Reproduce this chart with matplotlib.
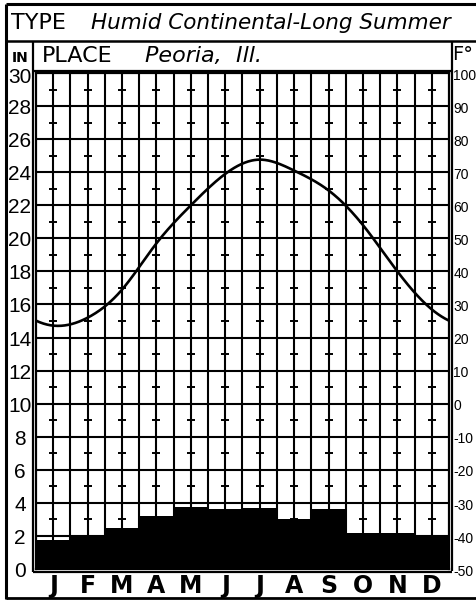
import numpy as np
import matplotlib
matplotlib.use("Agg")
import matplotlib.pyplot as plt
from matplotlib import transforms

# ---- data ----
months = ["J", "F", "M", "A", "M", "J", "J", "A", "S", "O", "N", "D"]
precip_in = [1.75, 1.95, 2.5, 3.2, 3.75, 3.6, 3.7, 3.0, 3.6, 2.2, 2.2, 1.95]
temp_f = [23.6, 26.0, 34.5, 48.5, 60.0, 69.5, 73.8, 70.5, 64.5, 54.0, 40.0, 28.5]
in_ticks = list(range(0, 31, 2))
f_ticks = list(range(-50, 101, 10))

W, H = 477, 602
fig = plt.figure(figsize=(W / 100, H / 100), dpi=100)

L, R, T, B = 36, 449, 73, 569
ax = fig.add_axes([L / W, 1 - B / H, (R - L) / W, (B - T) / H])
ax.set_xlim(0, 12)
ax.set_ylim(0, 30)

# grid
for xv in np.arange(0.5, 12, 0.5):
    ax.axvline(xv, color="black", lw=1.5, zorder=1)
for yv in in_ticks[1:-1]:
    ax.axhline(yv, color="black", lw=1.5, zorder=1)
# small cross ticks at month centres on odd inch values
cx = np.arange(12) + 0.5
for yv in range(1, 30, 2):
    ax.plot(cx, [yv] * 12, ls="none", marker="_", ms=6, mew=1.4, color="black", zorder=1.5)

# precipitation bars
ax.bar(np.arange(12), precip_in, width=1.0, align="edge", color="black", zorder=2)

ax.set_xticks([])
ax.set_yticks([])
for s in ax.spines.values():
    s.set_linewidth(1.6)

# temperature on twin axis
ax2 = ax.twinx()
ax2.set_ylim(-50, 100)
ax2.set_yticks([])
for s in ax2.spines.values():
    s.set_visible(False)

# smooth periodic cubic spline rendering through the monthly values
t = np.array(temp_f, dtype=float)
n = len(t)
A = np.zeros((n, n))
rhs = np.zeros(n)
for i in range(n):
    A[i, (i - 1) % n] = 1
    A[i, i] = 4
    A[i, (i + 1) % n] = 1
    rhs[i] = 6 * (t[(i + 1) % n] - 2 * t[i] + t[(i - 1) % n])
M = np.linalg.solve(A, rhs)
xs, ys = [], []
for i in range(-1, n):
    a, b = t[i % n], t[(i + 1) % n]
    ma, mb = M[i % n], M[(i + 1) % n]
    u = np.linspace(0, 1, 40)
    yy = (1 - u) * a + u * b + ((1 - u) ** 3 - (1 - u)) * ma / 6 + (u ** 3 - u) * mb / 6
    xs.append(i + 0.5 + u)
    ys.append(yy)
xs = np.concatenate(xs)
ys = np.concatenate(ys)
m = (xs >= 0) & (xs <= 12)
ax2.plot(xs[m], ys[m], color="black", lw=1.9, zorder=3)

# ---- overlay for frames and text ----
ov = fig.add_axes([0, 0, 1, 1], facecolor="none")
ov.set_xlim(0, W)
ov.set_ylim(H, 0)
ov.axis("off")

def line(x0, y0, x1, y1, lw=1.6):
    ov.plot([x0, x1], [y0, y1], color="black", lw=lw, solid_capstyle="butt")

line(6, 4, 477, 4, 2.2)
line(6, 4, 6, 599, 2.2)
line(6, 598, 477, 598, 2.0)
line(6, 41, 477, 41, 1.8)
line(33, 41, 33, 572)
line(452, 41, 452, 571)
line(33, 71, 452, 71)
line(33, 572, 452, 572)

fnt = dict(family="DejaVu Sans", color="black")
nfn = dict(family="Liberation Sans", color="black")
ov.text(11, 23, "TYPE", fontsize=16, ha="left", va="center", **fnt)
ov.text(91, 23, "Humid Continental-Long Summer", fontsize=15.5, style="italic",
        ha="left", va="center", **fnt)
ov.text(20, 58, "IN", fontsize=10, fontweight="bold", ha="center", va="center", **fnt)
ov.text(42, 56, "PLACE", fontsize=16, ha="left", va="center", **fnt)
ov.text(145, 56, "Peoria,  Ill.", fontsize=16, style="italic", ha="left", va="center", **fnt)
ov.text(463, 55, "F°", fontsize=14, ha="center", va="center", **fnt)

trL = transforms.blended_transform_factory(ov.transData, ax.transData)
for v in in_ticks:
    yv = v - 0.15 if v < 30 else v - 0.25
    ax.text(20, yv, str(v), transform=trL, fontsize=15,
            ha="center", va="center", clip_on=False, **nfn)
trR = transforms.blended_transform_factory(ov.transData, ax2.transData)
for v in f_ticks:
    ax2.text(453.5, v - 0.8, str(v), transform=trR, fontsize=10,
             ha="left", va="center", clip_on=False, **nfn)

trX = transforms.blended_transform_factory(ax.transData, ov.transData)
for i, mo in enumerate(months):
    ax.text(i + 0.5, 586, mo, transform=trX, fontsize=17, fontweight="bold",
            ha="center", va="center", clip_on=False, **fnt)

fig.savefig("out.png", dpi=100)
